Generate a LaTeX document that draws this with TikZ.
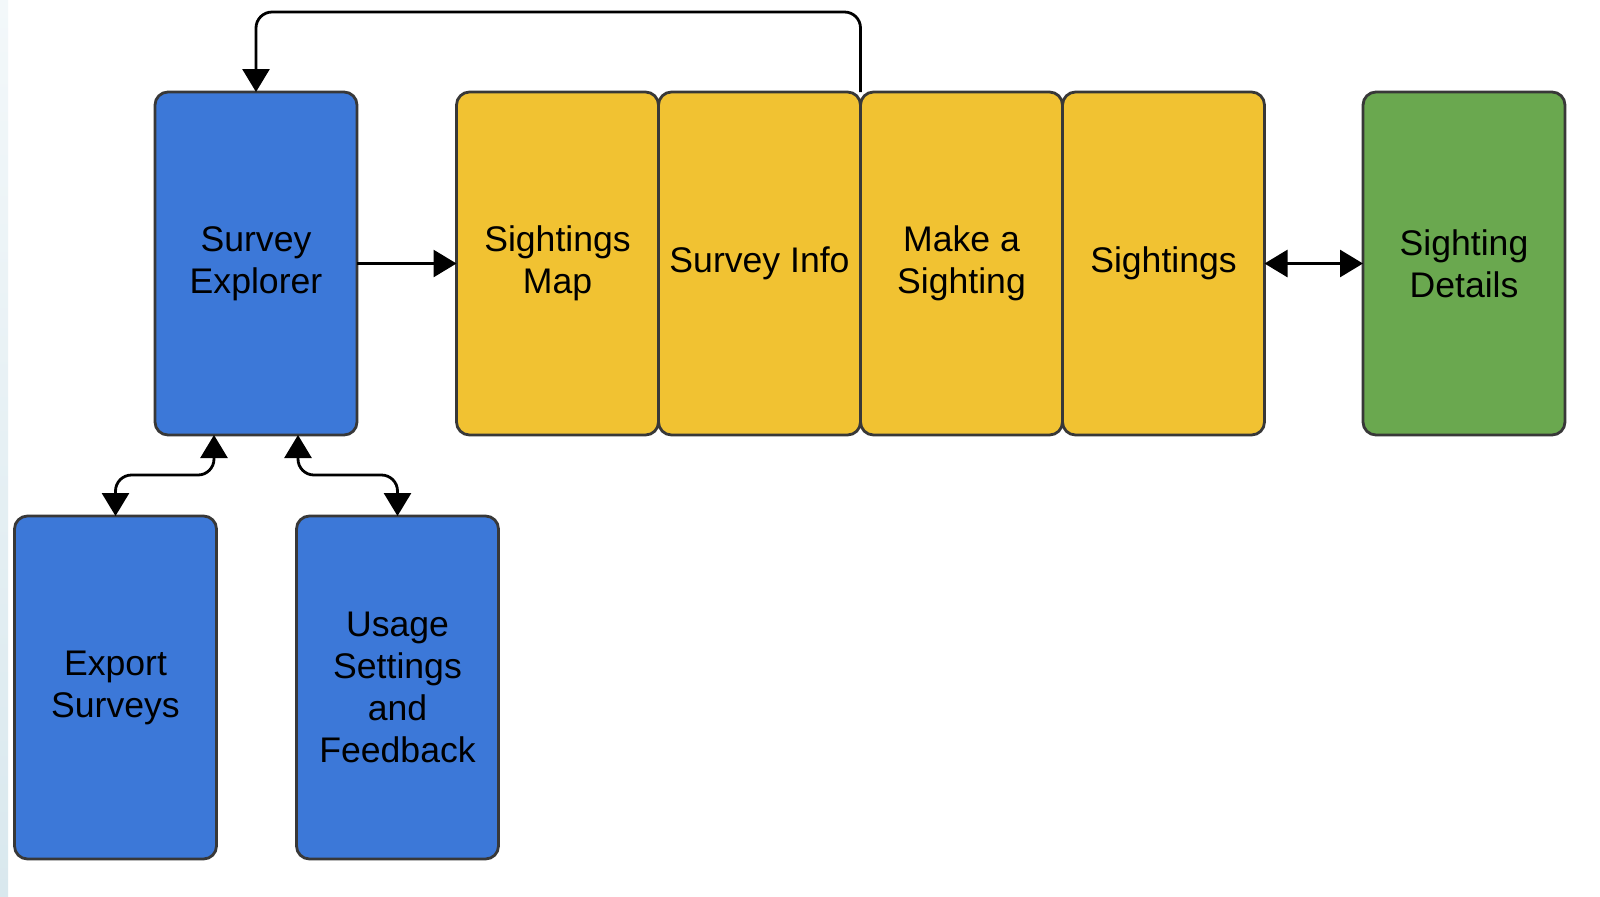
\documentclass[tikz,border=0pt]{standalone}
\usepackage{fontspec}
\setmainfont{Liberation Sans}
\usetikzlibrary{positioning,calc,arrows.meta}
\definecolor{boxblue}{HTML}{3C78D8}
\definecolor{boxyellow}{HTML}{F1C232}
\definecolor{boxgreen}{HTML}{6AA84F}
\definecolor{boxedge}{HTML}{383838}
\definecolor{edgetop}{HTML}{F3F8FA}
\definecolor{edgebottom}{HTML}{D9E8EE}
\tikzset{ARROW/.style={line width=1.4pt, -{Triangle[length=11.5pt,width=13.5pt]}}}
\tikzset{BIARROW/.style={line width=1.4pt, {Triangle[length=11.5pt,width=13.5pt]}-{Triangle[length=11.5pt,width=13.5pt]}}}
\tikzset{SCREEN/.style={rectangle, rounded corners=6.5pt, minimum width=101pt, minimum height=171.5pt, draw=boxedge, line width=1.4pt, outer sep=0pt, align=center, font=\fontsize{17.8}{21}\selectfont}}

\begin{document}
\begin{tikzpicture}[x=0.5pt, y=-0.5pt]
    \useasboundingbox (0,0) rectangle (1600,896);
    \fill[white] (0,0) rectangle (1600,896);
    \shade[top color=edgetop, bottom color=edgebottom] (0,0) rectangle (8,896);

    \node[SCREEN, fill=boxblue] (n_explorer) at (256,263.5) {Survey\\ Explorer};

    \node[SCREEN, fill=boxyellow] (n_map) at (557.5,263.5) {Sightings\\ Map};
    \node[SCREEN, fill=boxyellow, right=0pt of n_map] (n_info) {Survey Info};
    \node[SCREEN, fill=boxyellow, right=0pt of n_info] (n_make) {Make a\\ Sighting};
    \node[SCREEN, fill=boxyellow, right=0pt of n_make] (n_sightings) {Sightings};

    \node[SCREEN, fill=boxgreen] (n_details) at (1464,263.5) {Sighting\\ Details};

    \node[SCREEN, fill=boxblue] (n_export) at (115.5,687.5) {Export\\ Surveys};
    \node[SCREEN, fill=boxblue] (n_usage) at (397.5,687.5) {Usage\\ Settings\\ and\\ Feedback};

    \draw[ARROW] (n_explorer.east) -- (n_map.west);
    \draw[BIARROW] (n_sightings.east) -- (n_details.west);
    \draw[ARROW, rounded corners=8pt] (n_info.north east) -- ++(0,-80) -| (n_explorer.north);

    \coordinate (export_in) at ($(n_explorer.south)+(-42,0)$);
    \coordinate (usage_in) at ($(n_explorer.south)+(42,0)$);
    \draw[BIARROW, rounded corners=8pt] (n_export.north) |- ($(export_in)+(0,40)$) -- (export_in);
    \draw[BIARROW, rounded corners=8pt] (usage_in) -- ++(0,40) -| (n_usage.north);

\end{tikzpicture}
\end{document}
